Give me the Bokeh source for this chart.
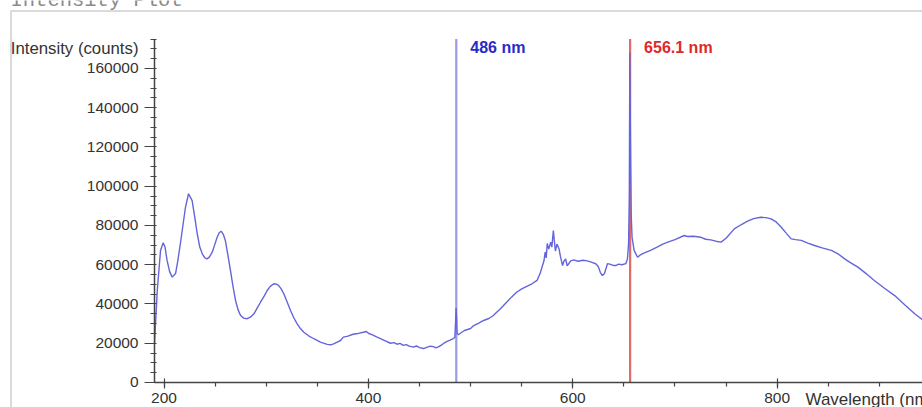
from bokeh.plotting import figure
from bokeh.models import (Label, FixedTicker, LinearAxis, BasicTickFormatter,
                          BoxAnnotation, Range1d)
from bokeh.embed import file_html
from bokeh.resources import INLINE

# ---- data ----
wavelength_nm = [
    190.7, 193.4, 196.6, 199.2, 201, 203, 205.5, 208, 211.3, 213.5, 216, 218.5, 221, 224,
    227.5, 230, 232.5, 235, 237.4, 240, 242.2, 244.5, 247.2, 249.5, 252, 254, 256, 258,
    260, 262.5, 265, 267.5, 270, 272.5, 274.9, 278, 281.4, 284.5, 288, 291, 294.4, 298,
    301, 304, 307.4, 310, 312.3, 314.8, 317.2, 320.5, 323.8, 327, 330.3, 333.5, 336.8,
    341.5, 346.6, 353, 359.7, 363, 366, 369, 372.7, 375.5, 380, 385, 390, 395, 398, 400,
    404, 408, 411.8, 416, 421.6, 425, 428, 431, 434, 437, 440, 444, 447, 450, 454, 457,
    460.7, 463.7, 466, 468, 471, 473.5, 477, 480, 483, 484.6, 485.3, 485.8, 486.3, 486.8,
    488, 490, 494, 500, 503, 508, 512.7, 517.8, 522, 525, 529, 535, 540, 545, 550, 555,
    560, 565, 568, 570, 571.8, 573, 574, 575, 576.5, 578.4, 579.5, 581, 582, 583, 584.5,
    586.6, 588, 590, 591.5, 593, 594.5, 596, 598, 601, 605, 610, 614, 618, 622.5, 625,
    627, 629, 631, 634, 637, 640, 642, 645, 648, 652, 653.5, 654.6, 655.3, 655.8, 656.5,
    657.2, 658, 660, 663.4, 666, 670, 676, 682, 688, 693, 700, 709, 712, 718, 725.5, 730,
    735, 740, 745, 750, 758, 765, 771, 777, 784, 789, 794, 799, 804, 809, 813.7, 818,
    823.5, 830, 836.6, 844, 853, 859.5, 866, 872, 879, 887, 895, 905, 915, 925, 934.6, 943,
]
intensity_counts = [
    19900, 46900, 67300, 71200, 69000, 62200, 56500, 53700, 55500, 62000, 70700, 80000,
    89300, 96200, 92700, 84500, 75900, 69000, 65600, 63500, 63000, 64000, 66400, 70000,
    74000, 76300, 77100, 75500, 72400, 65000, 57100, 49000, 41800, 37000, 34100, 32800,
    32500, 33300, 35000, 37800, 40900, 44000, 46900, 49000, 50300, 50100, 49400, 47600,
    45200, 41000, 36700, 33000, 29900, 27500, 25600, 23800, 22300, 20600, 19400, 19200,
    19700, 20500, 21400, 23100, 23600, 24600, 25000, 25600, 26000, 25100, 24300, 23300,
    22400, 21300, 20000, 20300, 19500, 19900, 18900, 19300, 18500, 18000, 18600, 17800,
    17300, 17900, 18500, 18300, 17700, 18000, 18900, 19900, 20900, 21600, 22400, 23000,
    31000, 38000, 33000, 25000, 24300, 25100, 26500, 27500, 29000, 30300, 31600, 32600,
    34000, 35500, 37500, 40800, 43500, 46000, 47700, 49000, 50300, 52000, 55500, 59000,
    62000, 66500, 63500, 70800, 68000, 71500, 69000, 77400, 72000, 67000, 70500, 68000,
    64000, 59600, 62000, 63000, 59500, 60500, 62000, 62500, 61800, 62300, 62000, 61300,
    60500, 59000, 56000, 54500, 55500, 60600, 60200, 59600, 59600, 60300, 60000, 60600,
    63000, 70800, 95000, 168000, 120000, 85000, 74000, 67300, 63800, 65000, 66000, 67300,
    68800, 70500, 71500, 72800, 74900, 74400, 74500, 74000, 73000, 72700, 72000, 71500,
    73500, 78300, 80500, 82200, 83500, 84200, 84000, 83400, 81800, 79100, 76000, 73200,
    72800, 72400, 71000, 69800, 68600, 67300, 65600, 63000, 61000, 58800, 55500, 52000,
    48000, 44300, 39500, 35000, 31600,
]
marker_lines_nm = [486, 656.1]
marker_labels = ["486 nm", "656.1 nm"]
x_ticks = [200, 400, 600, 800]
x_minor_ticks = list(range(200, 951, 50))
y_ticks = [0, 20000, 40000, 60000, 80000, 100000, 120000, 140000, 160000]
y_minor_ticks = list(range(0, 175001, 5000))
x_axis_start = 190.7      # wavelength where the plotted axes begin
y_axis_top = 175000       # top of the intensity axis

FONT = "Liberation Sans"
AXIS_COL = "#444444"
TEXT_COL = "#333333"
W, H = 922, 407

p = figure(width=W, height=H, output_backend="svg", toolbar_location=None,
           x_range=Range1d(40.0, 942.2), y_range=Range1d(-12739, 194648),
           x_axis_type=None, y_axis_type=None)
p.min_border = 0
p.min_border_left = 0
p.min_border_right = 0
p.min_border_top = 0
p.min_border_bottom = 0
p.outline_line_color = None
p.background_fill_color = "white"
p.border_fill_color = "white"

# axes (placed at fixed data positions inside the canvas)
yaxis = LinearAxis(ticker=FixedTicker(ticks=y_ticks, minor_ticks=y_minor_ticks),
                   formatter=BasicTickFormatter(use_scientific=False),
                   fixed_location=x_axis_start, bounds=(0, y_axis_top))
xaxis = LinearAxis(ticker=FixedTicker(ticks=x_ticks, minor_ticks=x_minor_ticks),
                   fixed_location=0, bounds=(x_axis_start, 1000))
for ax in (yaxis, xaxis):
    ax.axis_line_color = AXIS_COL
    ax.axis_line_width = 1.5
    ax.major_tick_line_color = AXIS_COL
    ax.major_tick_line_width = 1.2
    ax.minor_tick_line_color = AXIS_COL
    ax.minor_tick_line_width = 1.2
    ax.major_label_text_font = FONT
    ax.major_label_text_font_size = "15.5px"
    ax.major_label_text_color = TEXT_COL
    ax.major_label_standoff = 6
yaxis.major_tick_in = 0
yaxis.major_tick_out = 10
yaxis.minor_tick_in = 2
yaxis.minor_tick_out = 4
xaxis.major_tick_in = 4
xaxis.major_tick_out = 6
xaxis.minor_tick_in = 0
xaxis.minor_tick_out = 4
xaxis.major_label_standoff = 5
p.add_layout(yaxis, "left")
p.add_layout(xaxis, "below")

# marker lines
marker_line_colors = ["#9a9ae6", "#e06a6a"]
marker_text_colors = ["#2a2ac8", "#e02828"]
p.segment(x0=marker_lines_nm, y0=[0] * len(marker_lines_nm),
          x1=marker_lines_nm, y1=[y_axis_top] * len(marker_lines_nm),
          line_color=marker_line_colors, line_width=2.2)
for loc, lab, tc in zip(marker_lines_nm, marker_labels, marker_text_colors):
    p.add_layout(Label(x=loc, y=360, x_units="data", y_units="screen", x_offset=14,
                       text=lab, text_color=tc, text_font=FONT, text_font_size="16px",
                       text_font_style="bold", text_baseline="middle"))

# spectrum
p.line(wavelength_nm, intensity_counts, line_color="#6464dc", line_width=1.4)

# axis titles
p.add_layout(Label(x=138, y=359, x_units="screen", y_units="screen",
                   text="Intensity (counts)", text_align="right", text_baseline="middle",
                   text_font=FONT, text_font_size="16.8px", text_color=TEXT_COL))
p.add_layout(Label(x=805, y=8.5, x_units="screen", y_units="screen",
                   text="Wavelength (nm)", text_align="left", text_baseline="middle",
                   text_font=FONT, text_font_size="17px", text_color=TEXT_COL))

# outer panel: border and (mostly hidden) title
p.add_layout(BoxAnnotation(left=10.5, right=W + 20, top=H - 10.5, bottom=-20,
                           left_units="screen", right_units="screen",
                           top_units="screen", bottom_units="screen",
                           fill_color=None, line_color="#868686", line_width=2,
                           level="overlay"))
p.add_layout(Label(x=10, y=H, x_units="screen", y_units="screen",
                   text="Intensity Plot", text_align="left", text_baseline="alphabetic",
                   text_font="Liberation Mono", text_font_size="20.5px",
                   text_color="#8a8a8a"))

open("out.html", "w").write(file_html(p, INLINE))
